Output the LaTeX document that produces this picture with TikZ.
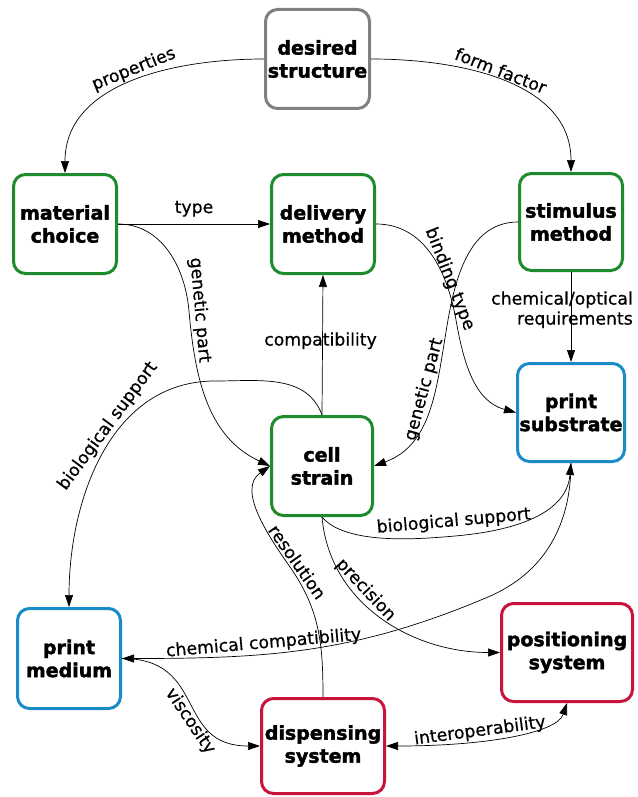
\documentclass[tikz,border=0pt]{standalone}
\usepackage{fontspec}
\setmainfont{DejaVu Sans}[BoldFeatures={FakeBold=2}]
\newfontfamily\lblfont{DejaVu Sans}[FakeBold=0.6]
\usetikzlibrary{arrows.meta}
\definecolor{cgreen}{RGB}{30,140,45}
\definecolor{cblue}{RGB}{25,140,200}
\definecolor{cred}{RGB}{200,20,60}
\definecolor{cgray}{RGB}{128,128,128}
\begin{document}
\begin{tikzpicture}[x=1pt,y=1pt,
  box/.style={draw, line width=3pt, rounded corners=12pt, align=center,
    font=\bfseries\fontsize{19}{23}\selectfont, inner sep=0pt,
    minimum width=103pt, minimum height=99pt},
  lbl/.style={font=\lblfont\fontsize{17.3}{20}\selectfont, inner sep=2pt},
  conn/.style={line width=0.7pt, -{Triangle[length=12pt,width=8pt]}},
  conntwo/.style={line width=0.7pt, {Triangle[length=12pt,width=8pt]}-{Triangle[length=12pt,width=8pt]}},
]
\fill[white] (0,0) rectangle (637,-797);
\useasboundingbox (0,0) rectangle (637,-797);

% nodes
\node[box, draw=cgray, minimum width=104pt] (des) at (317.5,-59) {desired\\structure};
\node[box, draw=cgreen] (mat) at (65,-224) {material\\choice};
\node[box, draw=cgreen] (del) at (323,-224) {delivery\\method};
\node[box, draw=cgreen, minimum height=97pt] (sti) at (571,-222) {stimulus\\method};
\node[box, draw=cblue, minimum width=107pt, minimum height=98pt] (sub) at (571,-412.5) {print\\substrate};
\node[box, draw=cgreen, minimum width=101pt] (cel) at (322,-466) {cell\\strain};
\node[box, draw=cblue, minimum height=100pt] (med) at (69,-658.5) {print\\medium};
\node[box, draw=cred, minimum width=131pt, minimum height=98pt] (pos) at (567,-652.5) {positioning\\system};
\node[box, draw=cred, minimum width=123pt, minimum height=95pt] (dis) at (323,-746) {dispensing\\system};

% connectors
\draw[conn] (des.west) to[out=180,in=90]
  node[lbl, sloped, above, pos=0.47] {properties} (mat.north);
\draw[conn] (des.east) to[out=0,in=90]
  node[lbl, sloped, above, pos=0.47] {form factor} (sti.north);
\draw[conn] (mat.east) -- node[lbl, above=5pt] {type} (del.west);
\draw[conn] (mat.east) to[out=0,in=95] (189,-311)
  to[out=-85,in=155] node[lbl, sloped, above, pos=0] {genetic part} (cel.west);
\draw[conn] (del.east) to[out=0,in=100] node[lbl, sloped, above=-6pt, pos=0.72] {binding type} (456,-320)
  to[out=-80,in=165] (sub.west);
\draw[conn] (sti.west) to[out=180,in=80] (448,-320)
  to[out=-100,in=20] node[lbl, sloped, above, pos=0.4] {genetic part} (cel.east);
\draw[conn] (sti.south) -- node[lbl, align=right, pos=0.42, xshift=-9pt] {chemical/optical\\requirements} (sub.north);
\draw[conn] (cel.north) -- node[lbl, pos=0.53, xshift=-2pt] {compatibility} (del.south);
\draw[conn] (cel.north) to[out=110,in=0] (215,-381)
  to[out=180,in=90] node[lbl, sloped, above, pos=0.41] {biological support} (med.north);
\draw[conn] (cel.south) to[out=-50,in=185,looseness=0.7] (455,-536)
  to[out=5,in=-95] node[lbl, sloped, above=4pt, pos=0] {biological support} (sub.south);
\draw[conn] (cel.south) to[out=-85,in=180]
  node[lbl, sloped, above, pos=0.37] {precision} (pos.west);
\draw[conn] (dis.north) to[out=90,in=-55] node[lbl, sloped, above, pos=1] {resolution} (290,-567)
  to[out=125,in=-145] (cel.west);
\draw[conn] (sub.south) to[out=-90,in=23] (488,-597)
  to[out=-157,in=0] node[lbl, sloped, above, pos=0.63] {chemical compatibility} (med.east);
\draw[conn] (med.east) to[out=0,in=180,looseness=1.35]
  node[lbl, sloped, below, pos=0.6] {viscosity} (dis.west);
\draw[conntwo] (dis.east) .. controls +(100,0) and +(-10,-30) ..
  node[lbl, sloped, above=-1pt, pos=0.36] {interoperability} (pos.south);
\end{tikzpicture}
\end{document}
